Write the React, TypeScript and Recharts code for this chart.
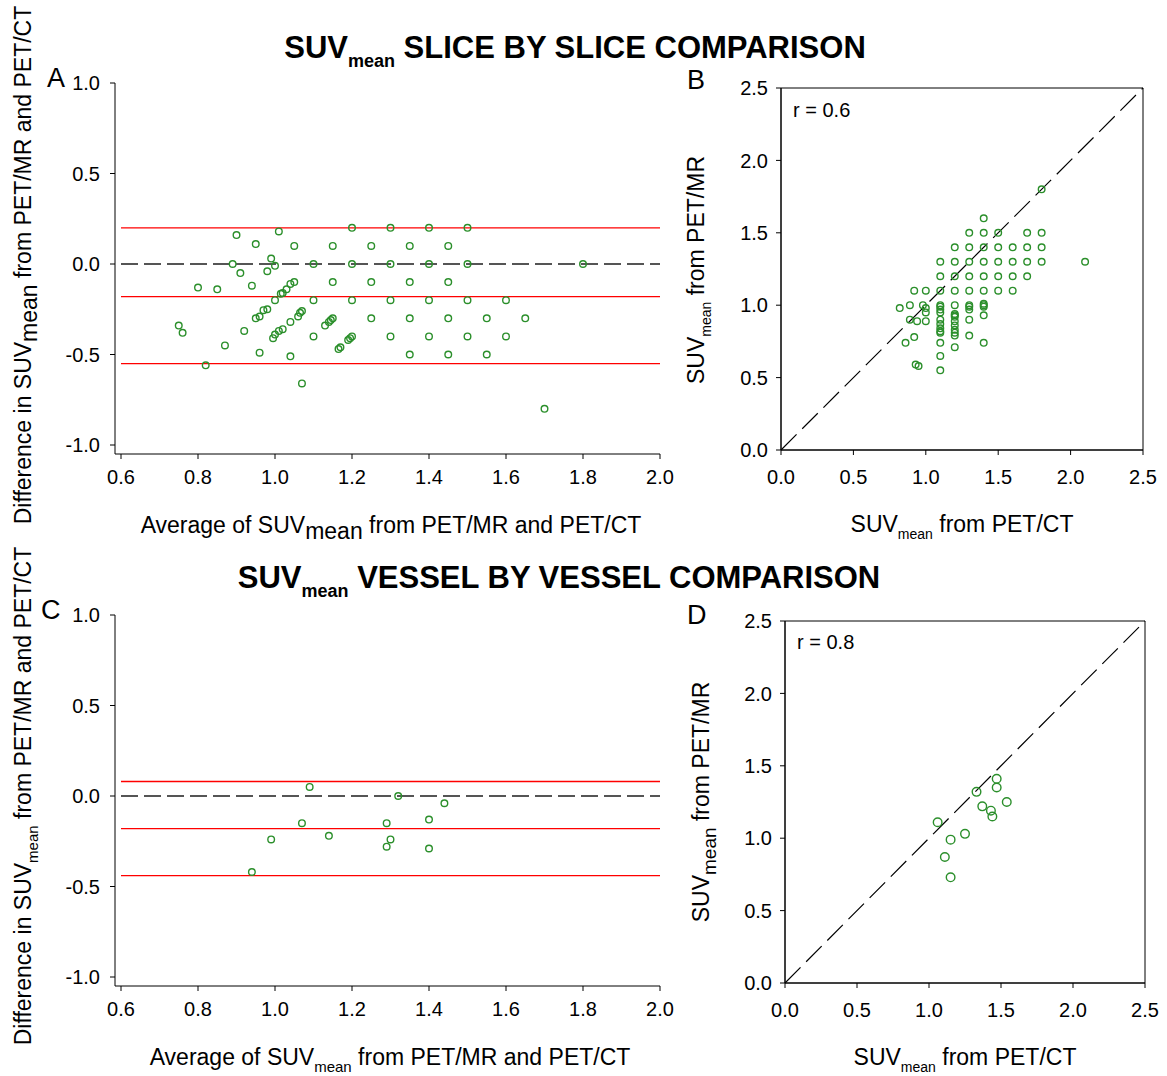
import { ScatterChart, Scatter, XAxis, YAxis, ReferenceLine, ReferenceArea } from "recharts";

// slice by slice: Bland-Altman (average, difference)
const sliceAvg = [
  0.9, 0.95, 1.01, 1.05, 1.15, 1.2, 1.25, 1.3, 0.89, 0.91, 0.99, 1.0, 0.98, 1.1, 1.2, 1.3,
  0.8, 0.85, 0.94, 1.05, 1.04, 1.03, 1.02, 1.015, 1.15, 1.25, 1.0, 1.1, 1.2, 1.3,
  0.98, 0.97, 0.96, 0.95, 1.07, 1.065, 1.06, 1.04, 1.15, 1.145, 1.14, 1.13, 1.25, 1.3,
  0.75, 0.76, 0.92, 1.02, 1.01, 1.0, 0.995, 1.1, 1.2, 1.195, 1.19, 1.17, 1.165,
  0.87, 0.96, 1.04, 0.82, 1.07,
  1.4, 1.5, 1.35, 1.45, 1.4, 1.5, 1.8, 1.35, 1.45, 1.4, 1.5, 1.6, 1.35, 1.45, 1.55, 1.65,
  1.4, 1.5, 1.6, 1.35, 1.45, 1.55, 1.7,
];
const sliceDiff = [
  0.16, 0.11, 0.18, 0.1, 0.1, 0.2, 0.1, 0.2, 0.0, -0.05, 0.03, -0.01, -0.04, 0.0, 0.0, 0.0,
  -0.13, -0.14, -0.12, -0.1, -0.11, -0.14, -0.16, -0.165, -0.1, -0.1, -0.2, -0.2, -0.2, -0.2,
  -0.25, -0.255, -0.29, -0.3, -0.26, -0.27, -0.29, -0.32, -0.3, -0.31, -0.32, -0.34, -0.3, -0.4,
  -0.34, -0.38, -0.37, -0.36, -0.37, -0.39, -0.41, -0.4, -0.4, -0.41, -0.42, -0.46, -0.47,
  -0.45, -0.49, -0.51, -0.56, -0.66,
  0.2, 0.2, 0.1, 0.1, 0.0, 0.0, 0.0, -0.1, -0.1, -0.2, -0.2, -0.2, -0.3, -0.3, -0.3, -0.3,
  -0.4, -0.4, -0.4, -0.5, -0.5, -0.5, -0.8,
];
const sliceLimits = [0.2, -0.18, -0.55];

// slice by slice: PET/CT vs PET/MR
const sliceCT = [
  1.8, 1.4,
  1.3, 1.4, 1.5, 1.7, 1.8,
  1.2, 1.3, 1.4, 1.5, 1.6, 1.7, 1.8,
  1.1, 1.2, 1.3, 1.4, 1.5, 1.6, 1.7, 1.8, 2.1,
  1.1, 1.2, 1.3, 1.4, 1.5, 1.6, 1.7,
  0.92, 1.0, 1.1, 1.2, 1.3, 1.4, 1.5, 1.6,
  0.82, 0.89, 0.98, 1.0, 1.0,
  1.1, 1.1, 1.1, 1.1, 1.1, 1.1, 1.1, 1.1, 1.1, 1.1, 1.1, 1.1,
  1.2, 1.2, 1.2, 1.2, 1.2, 1.2, 1.2, 1.2, 1.2, 1.2,
  1.3, 1.3, 1.3, 1.3, 1.3,
  1.4, 1.4, 1.4, 1.4, 1.4,
  0.89, 0.94, 1.0, 0.92, 0.86, 0.93, 0.95,
];
const sliceMR = [
  1.8, 1.6,
  1.5, 1.5, 1.5, 1.5, 1.5,
  1.4, 1.4, 1.4, 1.4, 1.4, 1.4, 1.4,
  1.3, 1.3, 1.3, 1.3, 1.3, 1.3, 1.3, 1.3, 1.3,
  1.2, 1.2, 1.2, 1.2, 1.2, 1.2, 1.2,
  1.1, 1.1, 1.1, 1.1, 1.1, 1.1, 1.1, 1.1,
  0.98, 1.0, 1.0, 0.98, 0.95,
  1.0, 0.99, 0.97, 0.95, 0.9, 0.87, 0.84, 0.82, 0.81, 0.74, 0.65, 0.55,
  1.0, 0.94, 0.93, 0.92, 0.89, 0.86, 0.83, 0.81, 0.79, 0.71,
  1.0, 0.99, 0.97, 0.9, 0.79,
  1.01, 1.0, 0.99, 0.93, 0.74,
  0.9, 0.89, 0.89, 0.78, 0.74, 0.59, 0.58,
];

// vessel by vessel
const vesselAvg = [1.09, 1.32, 1.44, 1.07, 1.29, 1.4, 0.99, 1.14, 1.3, 1.29, 1.4, 0.94];
const vesselDiff = [0.05, 0.0, -0.04, -0.15, -0.15, -0.13, -0.24, -0.22, -0.24, -0.28, -0.29, -0.42];
const vesselLimits = [0.08, -0.18, -0.44];
const vesselCT = [1.47, 1.47, 1.33, 1.54, 1.37, 1.43, 1.44, 1.06, 1.25, 1.15, 1.11, 1.15];
const vesselMR = [1.41, 1.35, 1.32, 1.25, 1.22, 1.19, 1.15, 1.11, 1.03, 0.99, 0.87, 0.73];

const avgTicks = [0.6, 0.8, 1.0, 1.2, 1.4, 1.6, 1.8, 2.0];
const diffTicks = [-1.0, -0.5, 0.0, 0.5, 1.0];
const suvTicks = [0, 0.5, 1.0, 1.5, 2.0, 2.5];

const GREEN = "#2b8f2b";
const FONT = "'Liberation Sans', Arial, sans-serif";
const tickStyle = { fontSize: 20, fill: "#000", fontFamily: FONT };
const fmt = (v: number) => v.toFixed(1);

const zip = (xs: number[], ys: number[]) => xs.map((x, i) => ({ x, y: ys[i] }));

const ring = (r: number) => (p: any) => (
  <circle cx={p.cx} cy={p.cy} r={r} fill="none" stroke={GREEN} strokeWidth={1.4} />
);

function BlandAltman({ top, avg, diff, limits }: { top: number; avg: number[]; diff: number[]; limits: number[] }) {
  return (
    <div style={{ position: "absolute", left: 0, top, width: 680, height: 500 }}>
      <ScatterChart width={680} height={500} margin={{ top: 83, right: 20, bottom: 0, left: 0 }}>
        <XAxis
          type="number"
          dataKey="x"
          domain={[0.6, 2.0]}
          ticks={avgTicks}
          interval={0}
          padding={{ left: 6, right: 0 }}
          height={46}
          tickSize={5}
          tickMargin={11}
          tick={tickStyle}
          tickFormatter={fmt}
          axisLine={{ stroke: "#000" }}
          tickLine={{ stroke: "#000" }}
        />
        <YAxis
          type="number"
          dataKey="y"
          domain={[-1, 1]}
          ticks={diffTicks}
          interval={0}
          padding={{ top: 0, bottom: 9 }}
          width={115}
          tickSize={5}
          tickMargin={10}
          tick={tickStyle}
          tickFormatter={fmt}
          axisLine={{ stroke: "#000" }}
          tickLine={{ stroke: "#000" }}
        />
        <ReferenceLine
          segment={[{ x: 0.6, y: 0 }, { x: 2.0, y: 0 }]}
          stroke="#555"
          strokeWidth={2}
          strokeDasharray="17 6"
        />
        {limits.map((v) => (
          <ReferenceLine key={v} segment={[{ x: 0.6, y: v }, { x: 2.0, y: v }]} stroke="#ff0000" strokeWidth={1.3} />
        ))}
        <Scatter data={zip(avg, diff)} shape={ring(3.3)} isAnimationActive={false} />
      </ScatterChart>
    </div>
  );
}

function Identity({ left, top, width, right, ct, mr, r }: { left: number; top: number; width: number; right: number; ct: number[]; mr: number[]; r: number }) {
  return (
    <div style={{ position: "absolute", left, top, width, height: 500 }}>
      <ScatterChart width={width} height={500} margin={{ top: 88, right, bottom: 0, left: 0 }}>
        <XAxis
          type="number"
          dataKey="x"
          domain={[0, 2.5]}
          ticks={suvTicks}
          interval={0}
          height={50}
          tickSize={5}
          tickMargin={15}
          tick={tickStyle}
          tickFormatter={fmt}
          axisLine={{ stroke: "#000" }}
          tickLine={{ stroke: "#000" }}
        />
        <YAxis
          type="number"
          dataKey="y"
          domain={[0, 2.5]}
          ticks={suvTicks}
          interval={0}
          width={101}
          tickSize={5}
          tickMargin={8}
          tick={tickStyle}
          tickFormatter={fmt}
          axisLine={{ stroke: "#000" }}
          tickLine={{ stroke: "#000" }}
        />
        <ReferenceArea x1={0} x2={2.5} y1={0} y2={2.5} fill="none" stroke="#000" strokeWidth={1} />
        <ReferenceLine
          segment={[{ x: 0, y: 0 }, { x: 2.5, y: 2.5 }]}
          stroke="#000"
          strokeWidth={1.2}
          strokeDasharray="22 8"
        />
        <Scatter data={zip(ct, mr)} shape={ring(r)} isAnimationActive={false} />
      </ScatterChart>
    </div>
  );
}

function Labels() {
  const t = { fontFamily: FONT, fill: "#000" };
  return (
    <svg width={1167} height={1076} style={{ position: "absolute", left: 0, top: 0, pointerEvents: "none" }}>
      <text x={575} y={58} textAnchor="middle" fontSize={31} fontWeight="bold" {...t}>
        SUV<tspan fontSize={18} dy={9}>mean</tspan>
        <tspan dy={-9}> SLICE BY SLICE COMPARISON</tspan>
      </text>
      <text x={559} y={588} textAnchor="middle" fontSize={31} fontWeight="bold" {...t}>
        SUV<tspan fontSize={18} dy={9}>mean</tspan>
        <tspan dy={-9}> VESSEL BY VESSEL COMPARISON</tspan>
      </text>

      <text x={47} y={87} fontSize={27} {...t}>A</text>
      <text x={687} y={89} fontSize={27} {...t}>B</text>
      <text x={41} y={619} fontSize={27} {...t}>C</text>
      <text x={687} y={624} fontSize={27} {...t}>D</text>

      <text x={793} y={117} fontSize={20} {...t}>r = 0.6</text>
      <text x={797} y={649} fontSize={20} {...t}>r = 0.8</text>

      {/* panel A axis titles */}
      <text transform="translate(31,265) rotate(-90)" textAnchor="middle" fontSize={23} {...t}>
        Difference in SUV<tspan dy={6}>mean</tspan>
        <tspan dy={-6}> from PET/MR and PET/CT</tspan>
      </text>
      <text x={391} y={533} textAnchor="middle" fontSize={23} {...t}>
        Average of SUV<tspan dy={6}>mean</tspan>
        <tspan dy={-6}> from PET/MR and PET/CT</tspan>
      </text>

      {/* panel B */}
      <text transform="translate(704,270) rotate(-90)" textAnchor="middle" fontSize={23} {...t}>
        SUV<tspan fontSize={14} dy={7}>mean</tspan>
        <tspan dy={-7}> from PET/MR</tspan>
      </text>
      <text x={962} y={532} textAnchor="middle" fontSize={23} {...t}>
        SUV<tspan fontSize={14} dy={7}>mean</tspan>
        <tspan dy={-7}> from PET/CT</tspan>
      </text>

      {/* panel C */}
      <text transform="translate(31,796) rotate(-90)" textAnchor="middle" fontSize={23} {...t}>
        Difference in SUV<tspan fontSize={15} dy={7}>mean</tspan>
        <tspan dy={-7}> from PET/MR and PET/CT</tspan>
      </text>
      <text x={390} y={1065} textAnchor="middle" fontSize={23} {...t}>
        Average of SUV<tspan fontSize={15} dy={7}>mean</tspan>
        <tspan dy={-7}> from PET/MR and PET/CT</tspan>
      </text>

      {/* panel D */}
      <text transform="translate(709,802) rotate(-90)" textAnchor="middle" fontSize={23} {...t}>
        SUV<tspan fontSize={19} dy={7}>mean</tspan>
        <tspan dy={-7}> from PET/MR</tspan>
      </text>
      <text x={965} y={1065} textAnchor="middle" fontSize={23} {...t}>
        SUV<tspan fontSize={14} dy={7}>mean</tspan>
        <tspan dy={-7}> from PET/CT</tspan>
      </text>
    </svg>
  );
}

export default function App() {
  return (
    <div style={{ position: "absolute", left: 0, top: 0, width: 1167, height: 1076, background: "#fff", fontFamily: FONT }}>
      <BlandAltman top={0} avg={sliceAvg} diff={sliceDiff} limits={sliceLimits} />
      <Identity left={680} top={0} width={487} right={24} ct={sliceCT} mr={sliceMR} r={3.3} />
      <BlandAltman top={532} avg={vesselAvg} diff={vesselDiff} limits={vesselLimits} />
      <Identity left={684} top={533} width={483} right={22} ct={vesselCT} mr={vesselMR} r={4.3} />
      <Labels />
    </div>
  );
}
